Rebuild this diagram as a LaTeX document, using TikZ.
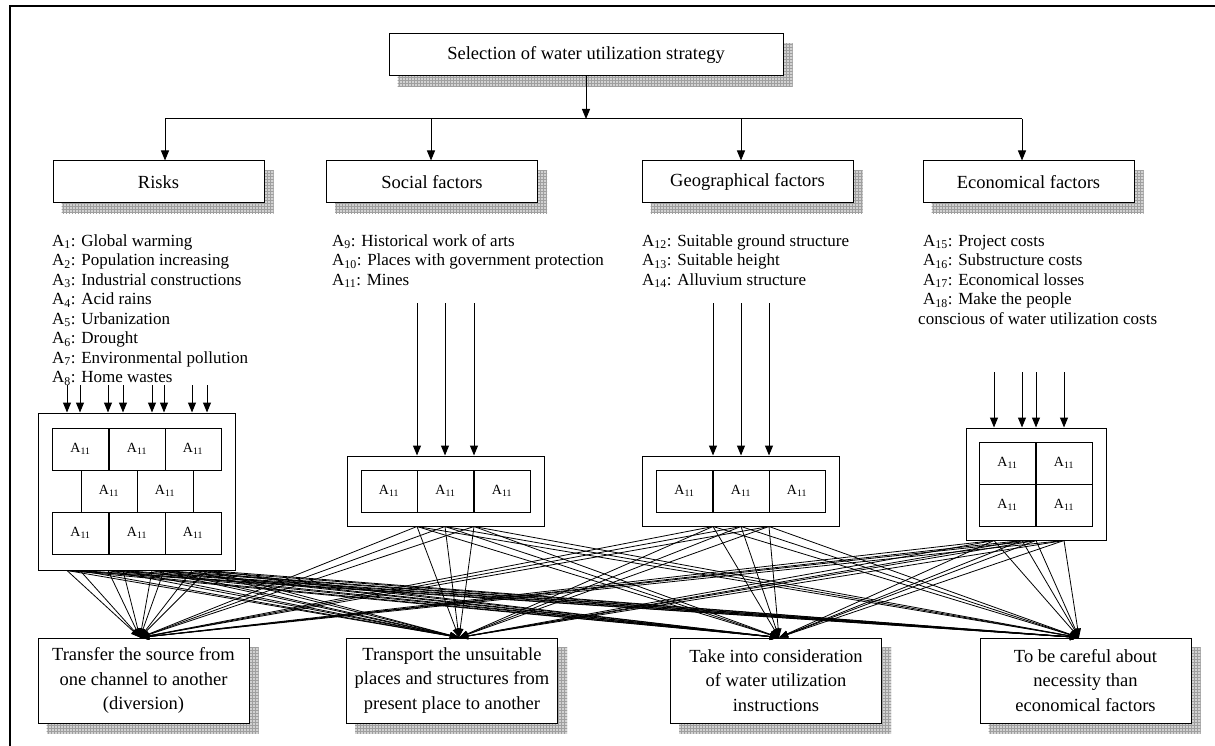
\documentclass[tikz,border=0pt]{standalone}
\usepackage{fontspec}
\setmainfont{Liberation Serif}
\usetikzlibrary{arrows.meta,patterns,backgrounds,calc}
\newcommand\Al[2]{A\textsubscript{#1}: #2}
\newcommand\cellA{A\textsubscript{11}}
\begin{document}
\begin{tikzpicture}[x=1pt,y=-1pt,
  box/.style={draw, line width=1pt, fill=white, inner sep=0pt, align=center,
    font=\fontsize{18.5}{24.5}\selectfont},
  hdr/.style={box, minimum width=211pt, minimum height=42pt},
  bot/.style={box, minimum width=211pt, minimum height=85pt},
  outer/.style={draw, line width=1pt, fill=white, inner sep=0pt},
  cell/.style={draw, line width=0.9pt, minimum width=56pt, minimum height=42pt, inner sep=0pt,
    font=\fontsize{14}{16}\selectfont},
  lst/.style={anchor=base west, inner sep=0pt, font=\fontsize{17}{19.5}\selectfont},
  arr/.style={line width=1pt, -{Triangle[length=10pt,width=8pt]}},
  link/.style={line width=0.8pt, -{Triangle[length=9pt,width=6.5pt]}},
  shfill/.style={fill=gray!35},
  shpat/.style={pattern=grid, pattern color=gray!75}
]
\useasboundingbox (0,0) rectangle (1215,746);
% frame
\draw[line width=1.3pt] (10,746) -- (10,6) -- (1215,6);

% top box
\node[box, minimum width=394pt, minimum height=42pt] (top) at (586,55) {Selection of water utilization strategy};

% headers
\node[hdr] (hr) at (158.5,182) {Risks};
\node[hdr] (hs) at (432,182) {Social factors};
\node[hdr] (hg) at (747.5,182) {Geographical factors};
\node[hdr] (he) at (1028.5,182) {Economical factors};

% distribution line
\coordinate (split) at (586,119);
\coordinate (jr) at (165,119);
\coordinate (js) at (431,119);
\coordinate (jg) at (741,119);
\coordinate (je) at (1022,119);
\draw[arr] (top.south -| split) -- (split);
\draw[line width=1pt] (jr) -- (je);
\draw[arr] (jr) -- (jr |- hr.north);
\draw[arr] (js) -- (js |- hs.north);
\draw[arr] (jg) -- (jg |- hg.north);
\draw[arr] (je) -- (je |- he.north);

% lists
\foreach \n/\t [count=\i] in {1/Global warming,2/Population increasing,3/Industrial constructions,4/Acid rains,5/Urbanization,6/Drought,7/Environmental pollution,8/Home wastes}
  \node[lst] (r\i) at (52,{246+(\i-1)*19.5}) {\Al{\n}{\t}};
\foreach \n/\t [count=\i] in {9/Historical work of arts,10/Places with government protection,11/Mines}
  \node[lst] (s\i) at (332,{246+(\i-1)*19.5}) {\Al{\n}{\t}};
\foreach \n/\t [count=\i] in {12/Suitable ground structure,13/Suitable height,14/Alluvium structure}
  \node[lst] (g\i) at (642,{246+(\i-1)*19.5}) {\Al{\n}{\t}};
\foreach \n/\t [count=\i] in {15/Project costs,16/Substructure costs,17/Economical losses,18/Make the people}
  \node[lst] (e\i) at (923,{246+(\i-1)*19.5}) {\Al{\n}{\t}};
\node[lst] (e5) at (918,324) {conscious of water utilization costs};

% cluster boxes
\node[outer, minimum width=197pt, minimum height=157pt] (cr) at (136.5,491.5) {};
\node[outer, minimum width=197pt, minimum height=70pt] (cs) at (445.5,491) {};
\node[outer, minimum width=197pt, minimum height=70pt] (cg) at (740.5,491) {};
\node[outer, minimum width=140pt, minimum height=112pt] (ce) at (1036,484) {};

\foreach \x [count=\i] in {80.5,137,193} {
  \node[cell] (crt\i) at (\x,449) {\cellA};
  \node[cell] (crb\i) at (\x,533) {\cellA};
}
\foreach \x [count=\i] in {109,165} \node[cell] (crm\i) at (\x,491) {\cellA};
\foreach \x [count=\i] in {389,445.5,502} \node[cell] (cs\i) at (\x,491) {\cellA};
\foreach \x [count=\i] in {684.5,741,797} \node[cell] (cg\i) at (\x,491) {\cellA};
\foreach \x [count=\i] in {1007.5,1064} {
  \node[cell] (cet\i) at (\x,463) {\cellA};
  \node[cell] (ceb\i) at (\x,505) {\cellA};
}

% bottom boxes
\node[bot] (b1) at (143.5,680.5) {Transfer the source from\\one channel to another\\(diversion)};
\node[bot] (b2) at (452,680.5) {Transport the unsuitable\\places and structures from\\present place to another};
\node[bot] (b3) at (776,680.5) {Take into consideration\\of water utilization\\instructions};
\node[bot] (b4) at (1085.5,680.5) {To be careful about\\necessity than\\economical factors};
\coordinate (t1) at ($(b1.north)+(-3.5,0)$);
\coordinate (t2) at ($(b2.north)+(7,0)$);
\coordinate (t3) at ($(b3.north)+(3,0)$);
\coordinate (t4) at ($(b4.north)+(-6.5,0)$);

% input arrows
\foreach \x [count=\i] in {67,80,108,123,152,164,192,207} {
  \coordinate (ra\i) at (\x,385);
  \draw[arr] (ra\i) -- (ra\i |- cr.north);
}
\foreach \x [count=\i] in {417,445,474} {
  \coordinate (sa\i) at (\x,303);
  \draw[arr] (sa\i) -- (sa\i |- cs.north);
}
\foreach \x [count=\i] in {713,741,769} {
  \coordinate (ga\i) at (\x,303);
  \draw[arr] (ga\i) -- (ga\i |- cg.north);
}
\foreach \x [count=\i] in {994,1022,1036,1064} {
  \coordinate (ea\i) at (\x,372);
  \draw[arr] (ea\i) -- (ea\i |- ce.north);
}

% output links
\foreach \t in {t1,t2,t3,t4} {
  \foreach \i in {1,...,8} \draw[link] (ra\i |- cr.south) -- (\t);
  \foreach \i in {1,2,3} \draw[link] (sa\i |- cs.south) -- (\t);
  \foreach \i in {1,2,3} \draw[link] (ga\i |- cg.south) -- (\t);
  \foreach \i in {1,...,4} \draw[link] (ea\i |- ce.south) -- (\t);
}

% shadows
\begin{scope}[on background layer]
\foreach \n in {top,hr,hs,hg,he,b1,b2,b3,b4} {
  \fill[shfill] ($(\n.south west)+(9,10)$) rectangle ($(\n.north east)+(9,10)$);
  \fill[shpat] ($(\n.south west)+(9,10)$) rectangle ($(\n.north east)+(9,10)$);
}
\end{scope}
\end{tikzpicture}
\end{document}
